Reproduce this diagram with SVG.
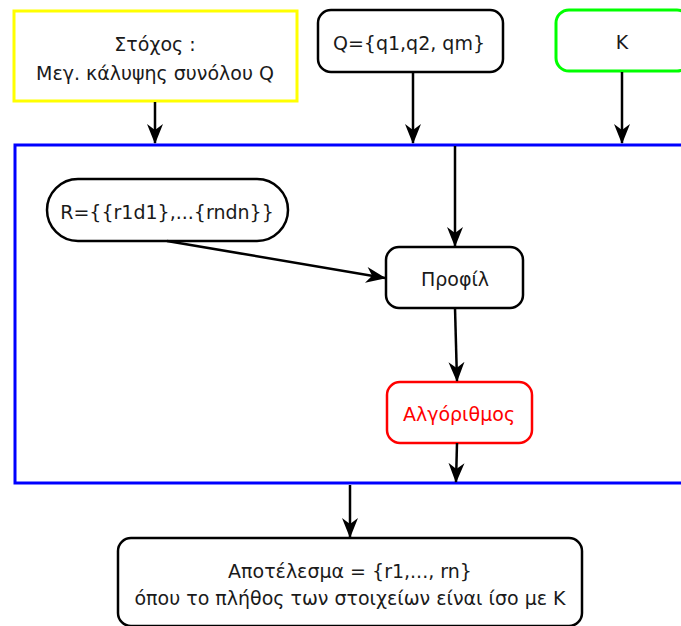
<svg xmlns="http://www.w3.org/2000/svg" width="681" height="626" viewBox="0 0 681 626">
  <style>
    .box { fill: #ffffff; stroke: #000000; stroke-width: 2.5; }
    .lbl { font-family: "DejaVu Sans", Verdana, sans-serif; font-size: 19px; fill: #1a1a1a; text-anchor: middle; }
    .edge { fill: none; stroke: #000000; stroke-width: 2.5; }
  </style>
  <defs>
    <marker id="arrow" viewBox="0 0 20 18" refX="19" refY="9" markerWidth="20" markerHeight="18" markerUnits="userSpaceOnUse" orient="auto">
      <path d="M0,1 L20,9 L0,17 L6,9 Z" fill="#000000"/>
    </marker>
  </defs>

  <rect width="681" height="626" fill="#ffffff"/>

  <!-- container -->
  <g id="container">
    <rect x="15" y="145" width="690" height="338" fill="none" stroke="#0000ff" stroke-width="3"/>
  </g>

  <g id="goal">
    <rect x="14" y="11" width="283" height="90" fill="#ffffff" stroke="#ffff00" stroke-width="3"/>
    <text class="lbl" x="155" y="51">Στόχος :</text>
    <text class="lbl" x="155" y="80">Μεγ. κάλυψης συνόλου Q</text>
  </g>

  <g id="queries">
    <rect class="box" x="318" y="10" width="185" height="62" rx="13"/>
    <text class="lbl" x="409" y="50">Q={q1,q2, qm}</text>
  </g>

  <g id="k">
    <rect x="556" y="10" width="134" height="61" rx="13" fill="#ffffff" stroke="#00ff00" stroke-width="3"/>
    <text class="lbl" x="622" y="49">K</text>
  </g>

  <g id="reviews">
    <rect class="box" x="47" y="179" width="241" height="62" rx="31"/>
    <text class="lbl" x="167" y="219">R={{r1d1},...{rndn}}</text>
  </g>

  <g id="profile">
    <rect class="box" x="386" y="247" width="137" height="61" rx="13"/>
    <text class="lbl" x="455" y="286">Προφίλ</text>
  </g>

  <g id="algorithm">
    <rect x="387" y="382" width="145" height="61" rx="13" fill="#ffffff" stroke="#ff0000" stroke-width="2.5"/>
    <text class="lbl" x="459" y="421" style="fill:#ff0000">Αλγόριθμος</text>
  </g>

  <g id="result">
    <rect class="box" x="118" y="538" width="464" height="88" rx="13"/>
    <text class="lbl" x="350" y="578">Αποτέλεσμα = {r1,..., rn}</text>
    <text class="lbl" x="350" y="605">όπου το πλήθος των στοιχείων είναι ίσο με K</text>
  </g>

  <g id="connectors">
    <line class="edge" x1="155" y1="102" x2="155" y2="143" marker-end="url(#arrow)"/>
    <line class="edge" x1="413" y1="73" x2="413" y2="143" marker-end="url(#arrow)"/>
    <line class="edge" x1="622" y1="72" x2="622" y2="143" marker-end="url(#arrow)"/>
    <line class="edge" x1="455" y1="146" x2="455" y2="246" marker-end="url(#arrow)"/>
    <line class="edge" x1="167" y1="241" x2="385" y2="278" marker-end="url(#arrow)"/>
    <line class="edge" x1="455" y1="308" x2="457" y2="381" marker-end="url(#arrow)"/>
    <line class="edge" x1="457" y1="443" x2="456" y2="482" marker-end="url(#arrow)"/>
    <line class="edge" x1="350" y1="485" x2="350" y2="537" marker-end="url(#arrow)"/>
  </g>
</svg>
